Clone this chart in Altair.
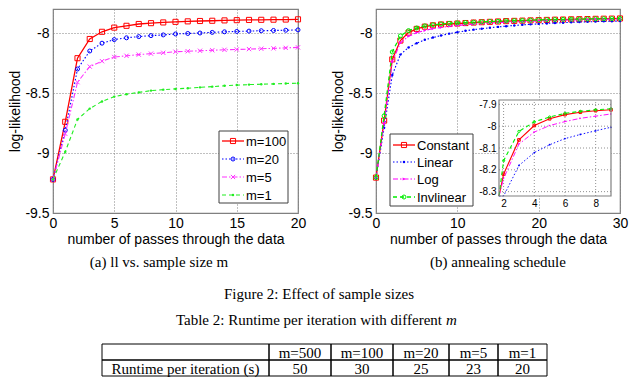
import altair as alt
import pandas as pd

# ---------------- data ----------------
LEFT_X = list(range(21))
LEFT_SERIES = ["m=100", "m=20", "m=5", "m=1"]
M100 = [-9.22, -8.74, -8.21, -8.05, -7.99, -7.955, -7.94, -7.925, -7.918, -7.912, -7.907,
        -7.903, -7.900, -7.898, -7.895, -7.893, -7.891, -7.890, -7.889, -7.888, -7.886]
M20 = [-9.22, -8.81, -8.30, -8.15, -8.085, -8.055, -8.04, -8.03, -8.022, -8.016, -8.008,
       -8.004, -8.000, -7.995, -7.990, -7.987, -7.984, -7.981, -7.979, -7.977, -7.974]
M5 = [-9.22, -8.84, -8.41, -8.28, -8.235, -8.20, -8.19, -8.18, -8.172, -8.165, -8.156,
      -8.152, -8.148, -8.144, -8.140, -8.137, -8.134, -8.131, -8.128, -8.124, -8.120]
M1 = [-9.22, -8.99, -8.72, -8.63, -8.57, -8.53, -8.51, -8.495, -8.48, -8.472, -8.466,
      -8.460, -8.453, -8.447, -8.440, -8.434, -8.430, -8.427, -8.424, -8.421, -8.418]

RIGHT_X = list(range(31))
RIGHT_SERIES = ["Constant", "Linear", "Log", "Invlinear"]
CONSTANT = [-9.205, -8.73, -8.22, -8.063, -7.997, -7.966, -7.947, -7.936, -7.929, -7.925, -7.921,
            -7.917, -7.913, -7.910, -7.907, -7.904, -7.901, -7.899, -7.897, -7.895, -7.893,
            -7.891, -7.889, -7.888, -7.886, -7.885, -7.884, -7.882, -7.881, -7.880, -7.879]
LINEAR = [-9.205, -8.79, -8.35, -8.18, -8.121, -8.085, -8.057, -8.038, -8.021, -8.005, -7.993,
          -7.982, -7.972, -7.964, -7.956, -7.949, -7.943, -7.937, -7.932, -7.928, -7.924,
          -7.920, -7.917, -7.914, -7.911, -7.909, -7.907, -7.905, -7.903, -7.902, -7.900]
LOG = [-9.205, -8.75, -8.24, -8.082, -8.027, -7.997, -7.979, -7.964, -7.954, -7.944, -7.937,
       -7.931, -7.926, -7.921, -7.917, -7.913, -7.910, -7.907, -7.904, -7.902, -7.899,
       -7.897, -7.895, -7.893, -7.891, -7.889, -7.888, -7.886, -7.885, -7.884, -7.883]
INVLINEAR = [-9.205, -8.69, -8.158, -8.024, -7.980, -7.958, -7.941, -7.932, -7.925, -7.920, -7.916,
             -7.913, -7.910, -7.907, -7.904, -7.902, -7.899, -7.897, -7.895, -7.893, -7.891,
             -7.889, -7.888, -7.886, -7.885, -7.884, -7.883, -7.882, -7.881, -7.880, -7.879]

LEFT_X_TICKS = [0, 5, 10, 15, 20]
RIGHT_X_TICKS = [0, 10, 20, 30]
LEFT_X_DOMAIN = [0, 20]
RIGHT_X_DOMAIN = [0, 30]
Y_TICKS = [-9.5, -9, -8.5, -8]
Y_DOMAIN = [-9.5, -7.8]
INSET_X_TICKS = [2, 4, 6, 8]
INSET_Y_TICKS = [-8.3, -8.2, -8.1, -8, -7.9]
INSET_X_DOMAIN = [1.7, 9]
INSET_Y_DOMAIN = [-8.32, -7.88]
INSET_FIRST_PASS = 1
INSET_LAST_PASS = 9

X_TITLE = "number of passes through the data"
Y_TITLE = "log-likelihood"
CAPTION_A = "(a) ll vs. sample size m"
CAPTION_B = "(b) annealing schedule"
FIG_CAPTION = "Figure 2: Effect of sample sizes"
TABLE_CAPTION = "Table 2: Runtime per iteration with different"
TABLE_CAPTION_VAR = "m"
TABLE_HEADERS = ["m=500", "m=100", "m=20", "m=5", "m=1"]
TABLE_RUNTIMES = [50, 30, 25, 23, 20]
TABLE_ROW_LABEL = "Runtime per iteration (s)"

# ---------------- style ----------------
SANS = "Liberation Sans"
SERIF = "Liberation Serif"
SERIF_SIZE = 15
LEFT_W, RIGHT_W, PLOT_H = 245, 244, 204
FRAME = "#808080"
X_CROSS = "M-1,-1L1,1M-1,1L1,-1"

STYLE = {
    "m=100": dict(color="#ff0000", dash=None, shape="square", filled=False, size=26, sw=1.3),
    "m=20": dict(color="#0000ff", dash=[1.5, 2], shape="circle", filled=False, size=16, sw=1.1),
    "m=5": dict(color="#ff33ff", dash=[5, 2, 1.5, 2], shape=X_CROSS, filled=False, size=18, sw=1.1),
    "m=1": dict(color="#22ee22", dash=[4, 3], shape="circle", filled=True, size=6, sw=1.1),
    "Constant": dict(color="#ff0000", dash=None, shape="square", filled=False, size=26, sw=1.3, isize=7),
    "Linear": dict(color="#0000ff", dash=[1.5, 2], shape="circle", filled=True, size=6, sw=1.1, isize=3),
    "Log": dict(color="#ff00ff", dash=[5, 2, 1.5, 2], shape="triangle-right", filled=True, size=10, sw=1.1, isize=4),
    "Invlinear": dict(color="#00ee00", dash=[4, 3], shape="circle", filled=False, size=16, sw=1.3, isize=5),
}

AXIS_COMMON = dict(grid=True, gridDash=[1, 2], gridColor="#808080", gridOpacity=1, gridWidth=1,
                   domain=False, ticks=False, tickSize=0, labelFont=SANS, titleFont=SANS,
                   labelFontSize=14, titleFontSize=14, labelColor="black", titleColor="black",
                   titleFontWeight="normal", labelOverlap=False)


def x_enc(ticks, domain):
    return alt.X("x:Q", scale=alt.Scale(domain=domain, nice=False, zero=False),
                 axis=alt.Axis(values=ticks, title=X_TITLE, labelFlush=False, labelPadding=3,
                               titlePadding=2, **AXIS_COMMON))


def y_enc():
    return alt.Y("y:Q", scale=alt.Scale(domain=Y_DOMAIN, nice=False, zero=False),
                 axis=alt.Axis(values=Y_TICKS, title=Y_TITLE, labelExpr="'' + datum.value",
                               labelPadding=4, titlePadding=2, **AXIS_COMMON))


def series_layers(xs, ys, st, xe, ye, size_key="size", sw_scale=1.0, point_filter=None):
    df = pd.DataFrame({"x": xs, "y": ys})
    base = alt.Chart(df).encode(x=xe, y=ye)
    kw = dict(color=st["color"], strokeWidth=st["sw"] * sw_scale)
    if st["dash"]:
        kw["strokeDash"] = st["dash"]
    line = base.mark_line(**kw)
    pts = base.mark_point(shape=st["shape"], filled=st["filled"], size=st[size_key],
                          color=st["color"], strokeWidth=1, opacity=1)
    if point_filter is not None:
        pts = pts.transform_filter(point_filter)
    return [line, pts]


def legend_layers(names, box, row_ys, font_size):
    x0, x1, y0, y1 = box
    one = pd.DataFrame({"k": [0]})
    layers = [alt.Chart(one).mark_rect(fill="white", stroke="#404040", strokeWidth=1).encode(
        x=alt.value(x0), x2=alt.value(x1), y=alt.value(y0), y2=alt.value(y1))]
    for name, yy in zip(names, row_ys):
        st = STYLE[name]
        kw = dict(color=st["color"], strokeWidth=st["sw"])
        if st["dash"]:
            kw["strokeDash"] = st["dash"]
        layers.append(alt.Chart(one).mark_rule(**kw).encode(
            x=alt.value(x0 + 3), x2=alt.value(x0 + 25), y=alt.value(yy)))
        layers.append(alt.Chart(one).mark_point(shape=st["shape"], filled=st["filled"], size=st["size"],
                                                color=st["color"], strokeWidth=1, opacity=1).encode(
            x=alt.value(x0 + 14), y=alt.value(yy)))
        layers.append(alt.Chart(pd.DataFrame({"name": [name]})).mark_text(
            align="left", baseline="middle", font=SANS, fontSize=font_size, color="black").encode(
            x=alt.value(x0 + 27), y=alt.value(yy + 1), text="name:N"))
    return layers


VIEW = alt.ViewBackground(stroke=FRAME, strokeWidth=1.2)

# ---------------- left plot ----------------
lx, ly = x_enc(LEFT_X_TICKS, LEFT_X_DOMAIN), y_enc()
left_layers = []
for name, vals in zip(LEFT_SERIES, [M100, M20, M5, M1]):
    left_layers += series_layers(LEFT_X, vals, STYLE[name], lx, ly)
left_layers += legend_layers(LEFT_SERIES, (166, 235, 122, 194), [132, 150, 168, 186], 13)
left = alt.layer(*left_layers).properties(width=LEFT_W, height=PLOT_H, view=VIEW)

# ---------------- right plot ----------------
rx, ry = x_enc(RIGHT_X_TICKS, RIGHT_X_DOMAIN), y_enc()
main_layers = []
for name, vals in zip(RIGHT_SERIES, [CONSTANT, LINEAR, LOG, INVLINEAR]):
    main_layers += series_layers(RIGHT_X, vals, STYLE[name], rx, ry)
main_layers += legend_layers(RIGHT_SERIES, (14, 97, 125, 197), [136, 153, 170, 188], 13)
main = alt.layer(*main_layers)

INSET_PX_X = [123, 235]
INSET_PX_Y = [187, 91]


def inset_x(field):
    return alt.X(f"{field}:Q",
                 scale=alt.Scale(domain=INSET_X_DOMAIN, range=INSET_PX_X, clamp=True, nice=False, zero=False),
                 axis=alt.Axis(values=INSET_X_TICKS, orient="bottom", offset=INSET_PX_Y[0] - PLOT_H, title=None,
                               grid=False, domain=False, ticks=False, tickSize=0, labelFont=SANS,
                               labelFontSize=10, labelColor="black", labelPadding=2, labelFlush=False,
                               labelOverlap=False))


def inset_y(field):
    return alt.Y(f"{field}:Q",
                 scale=alt.Scale(domain=INSET_Y_DOMAIN, range=INSET_PX_Y, clamp=True, nice=False, zero=False),
                 axis=alt.Axis(values=INSET_Y_TICKS, orient="left", offset=-INSET_PX_X[0], title=None,
                               grid=False, domain=False, ticks=False, tickSize=0, labelFont=SANS,
                               labelFontSize=10, labelColor="black", labelPadding=3,
                               labelExpr="'' + datum.value", labelOverlap=False))


box_df = pd.DataFrame({"x0": [INSET_X_DOMAIN[0]], "x1": [INSET_X_DOMAIN[1]],
                       "y0": [INSET_Y_DOMAIN[0]], "y1": [INSET_Y_DOMAIN[1]]})
vgrid = pd.DataFrame({"x0": INSET_X_TICKS, "y0": INSET_Y_DOMAIN[0], "y1": INSET_Y_DOMAIN[1]})
hgrid = pd.DataFrame({"y0": INSET_Y_TICKS, "x0": INSET_X_DOMAIN[0], "x1": INSET_X_DOMAIN[1]})

inset_layers = [
    alt.Chart(box_df).mark_rect(fill="white").encode(
        x=inset_x("x0"), x2="x1", y=inset_y("y0"), y2="y1"),
    alt.Chart(vgrid).mark_rule(color="#909090", strokeDash=[1, 2], strokeWidth=1).encode(
        x=inset_x("x0"), y=inset_y("y0"), y2="y1"),
    alt.Chart(hgrid).mark_rule(color="#909090", strokeDash=[1, 2], strokeWidth=1).encode(
        x=inset_x("x0"), x2="x1", y=inset_y("y0")),
]
ix, iy = inset_x("x"), inset_y("y")
sl = slice(INSET_FIRST_PASS, INSET_LAST_PASS + 1)
flt = (alt.datum.x >= INSET_X_DOMAIN[0]) & (alt.datum.y >= INSET_Y_DOMAIN[0])
for name, vals in zip(RIGHT_SERIES, [CONSTANT, LINEAR, LOG, INVLINEAR]):
    inset_layers += series_layers(RIGHT_X[sl], vals[sl], STYLE[name], ix, iy, size_key="isize",
                                  sw_scale=0.85, point_filter=flt)
inset_layers.append(alt.Chart(box_df).mark_rect(fillOpacity=0, stroke=FRAME, strokeWidth=1.2).encode(
    x=inset_x("x0"), x2="x1", y=inset_y("y0"), y2="y1"))
inset = alt.layer(*inset_layers)

right = alt.layer(main, inset).resolve_scale(x="independent", y="independent").properties(
    width=RIGHT_W, height=PLOT_H, view=VIEW)

top = alt.hconcat(left, right, spacing=24)

# ---------------- captions + table ----------------
# (positions measured from the left edge of the left plot area)
TABLE_COL_EDGES = [49, 216, 278, 340, 396, 445, 494]
TABLE_ROW_EDGES = [96, 112, 128]
SUB_CAP_X = [106, 445]
SUB_CAP_Y = 14
CAP_Y = [46, 72]
CAP_X = 266
CAP_SPLIT_X = 389

rows = [[""] + TABLE_HEADERS, [TABLE_ROW_LABEL] + [str(v) for v in TABLE_RUNTIMES]]
cells = []
for r, row in enumerate(rows):
    for c, txt in enumerate(row):
        cells.append({"x0": TABLE_COL_EDGES[c], "x1": TABLE_COL_EDGES[c + 1],
                      "y0": TABLE_ROW_EDGES[r], "y1": TABLE_ROW_EDGES[r + 1],
                      "xc": (TABLE_COL_EDGES[c] + TABLE_COL_EDGES[c + 1]) / 2,
                      "yc": (TABLE_ROW_EDGES[r] + TABLE_ROW_EDGES[r + 1]) / 2 + 1, "t": txt})
cells = pd.DataFrame(cells)


def serif_text(text, x, y, align="center", style="normal"):
    return alt.Chart(pd.DataFrame({"t": [text]})).mark_text(
        font=SERIF, fontSize=SERIF_SIZE, baseline="middle", align=align, fontStyle=style,
        color="black").encode(x=alt.value(x), y=alt.value(y), text="t:N")


cell_rects = alt.Chart(cells).mark_rect(fillOpacity=0, stroke="black", strokeWidth=1).encode(
    x=alt.X("x0:Q", scale=None), x2="x1:Q", y=alt.Y("y0:Q", scale=None), y2="y1:Q")
cell_text = alt.Chart(cells).mark_text(font=SERIF, fontSize=SERIF_SIZE, baseline="middle",
                                       color="black").encode(
    x=alt.X("xc:Q", scale=None), y=alt.Y("yc:Q", scale=None), text="t:N")

bottom = alt.layer(
    serif_text(CAPTION_A, SUB_CAP_X[0], SUB_CAP_Y),
    serif_text(CAPTION_B, SUB_CAP_X[1], SUB_CAP_Y),
    serif_text(FIG_CAPTION, CAP_X, CAP_Y[0]),
    serif_text(TABLE_CAPTION, CAP_SPLIT_X, CAP_Y[1], align="right"),
    serif_text(TABLE_CAPTION_VAR, CAP_SPLIT_X + 4, CAP_Y[1], align="left", style="italic"),
    cell_rects, cell_text,
).properties(width=500, height=129)

chart = alt.vconcat(top, bottom, spacing=0).properties(
    padding=0, background="white").configure_view(stroke="transparent")

chart.save("out.html", embed_options={"renderer": "svg", "actions": False})
